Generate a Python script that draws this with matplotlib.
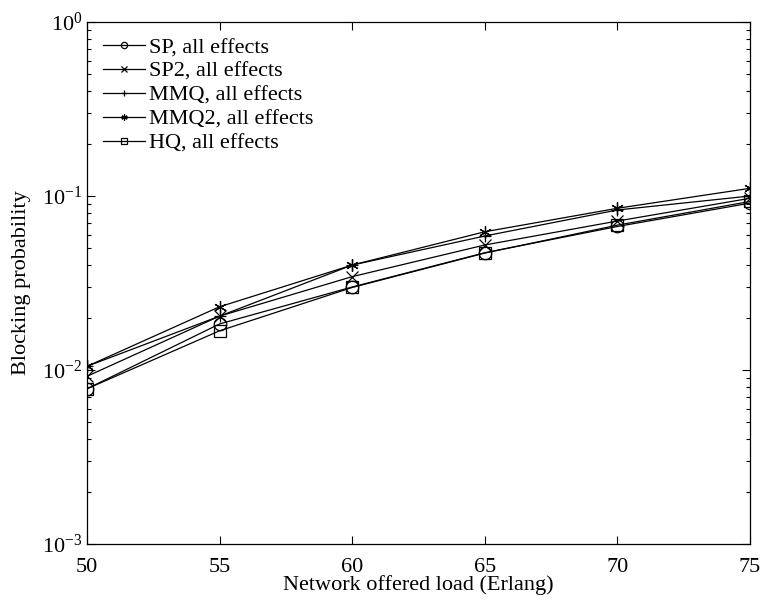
import matplotlib
matplotlib.use('Agg')
import matplotlib.pyplot as plt
from matplotlib.ticker import LogLocator, NullFormatter

plt.rcParams['font.family'] = ['Liberation Serif', 'DejaVu Serif']
plt.rcParams['mathtext.fontset'] = 'stix'

# offered load (Erlang)
load = [50, 55, 60, 65, 70, 75]

# blocking probability per scheme
sp = [0.0078, 0.0184, 0.0300, 0.0472, 0.0668, 0.0910]
sp2 = [0.0092, 0.0204, 0.0344, 0.0523, 0.0718, 0.0970]
mmq = [0.0105, 0.0204, 0.0401, 0.0589, 0.0831, 0.1000]
mmq2 = [0.0105, 0.0231, 0.0401, 0.0623, 0.0850, 0.1107]
hq = [0.0078, 0.0168, 0.0298, 0.0470, 0.0680, 0.0930]

asterisk = (6, 2, 0)
series = [
    (sp, 'o', 'SP, all effects'),
    (sp2, 'x', 'SP2, all effects'),
    (mmq, '+', 'MMQ, all effects'),
    (mmq2, asterisk, 'MMQ2, all effects'),
    (hq, 's', 'HQ, all effects'),
]

fig = plt.figure(figsize=(7.65, 6.04), dpi=100)
ax = fig.add_axes([0.1137, 0.0993, 0.8667, 0.8643])

for vals, mk, lab in series:
    ax.semilogy(load, vals, color='black', lw=0.9, marker=mk, ms=9,
                mfc='none', mec='black', mew=0.9, label=lab)

ax.set_xlim(50, 75)
ax.set_ylim(1e-3, 1)
ax.set_xticks(load)
ax.yaxis.set_major_locator(LogLocator(base=10, numticks=10))
ax.yaxis.set_minor_locator(LogLocator(base=10, subs=range(2, 10), numticks=20))
ax.yaxis.set_minor_formatter(NullFormatter())
ax.tick_params(which='both', direction='in', top=True, right=True,
               labelsize=16, width=0.8)
ax.tick_params(axis='x', pad=10)
ax.tick_params(which='major', length=6)
ax.tick_params(which='minor', length=3)
for s in ax.spines.values():
    s.set_linewidth(0.9)

ax.set_xlabel('Network offered load (Erlang)', fontsize=16, labelpad=-1)
ax.set_ylabel('Blocking probability', fontsize=16, labelpad=8)

ax.legend(loc='upper left', frameon=False, fontsize=16, markerscale=0.5,
          handlelength=1.9, handletextpad=0.2, labelspacing=0.15,
          borderaxespad=0.3)

fig.savefig('out.png', dpi=100)
